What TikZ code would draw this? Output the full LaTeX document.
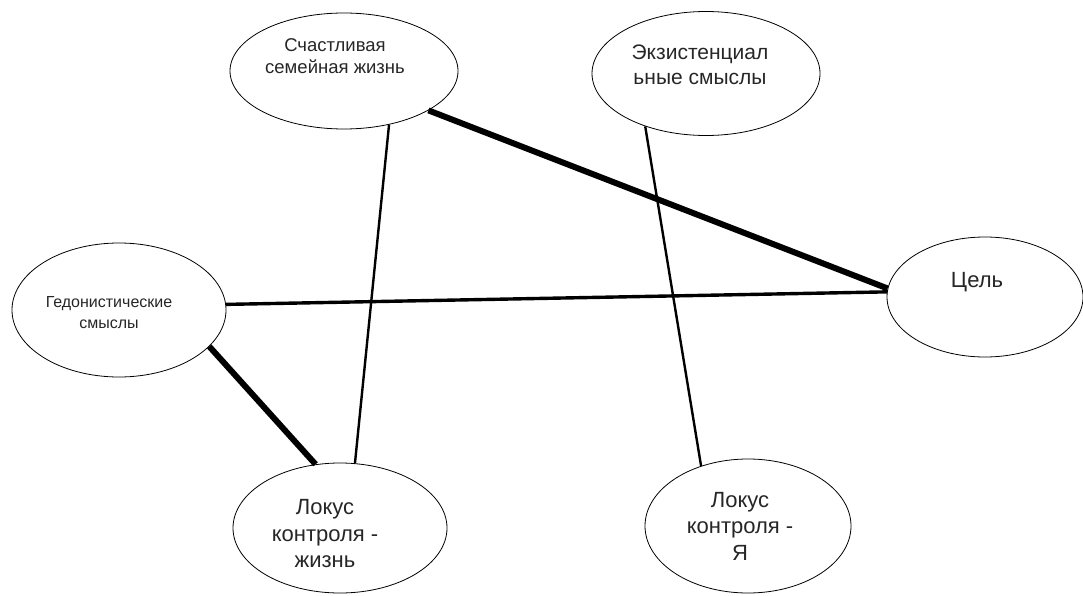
\documentclass[tikz,border=0pt]{standalone}
\usepackage{fontspec}
\setmainfont{Liberation Sans}
\usetikzlibrary{shapes.geometric}

\begin{document}
\begin{tikzpicture}[x=1pt,y=-1pt,
    oval/.style={draw,ellipse,line width=0.8pt,inner sep=0pt},
    txt/.style={align=center,inner sep=0pt,text=black!85},
    weakline/.style={line width=2.4pt},
    midline/.style={line width=3.4pt},
    strongline/.style={line width=6pt}]
            \useasboundingbox (0,0) rectangle (1083,596);
            \node[oval,minimum width=228pt,minimum height=116pt] (family) at (344,71) {};
            \node[oval,minimum width=228pt,minimum height=124pt] (exist) at (706,73.5) {};
            \node[oval,minimum width=214pt,minimum height=134pt] (hedon) at (119,310) {};
            \node[oval,minimum width=196pt,minimum height=120pt] (goal) at (985,297) {};
            \node[oval,minimum width=214pt,minimum height=130pt] (lifelocus) at (340,528) {};
            \node[oval,minimum width=206pt,minimum height=134pt] (selflocus) at (748,526) {};
            \node[txt,font=\fontsize{18.5}{22}\selectfont] (familytext) at (335,56) {Счастливая\\семейная жизнь};
            \node[txt,font=\fontsize{21}{25}\selectfont] (existtext) at (700,64.5) {Экзистенциал\\ьные смыслы};
            \node[txt,font=\fontsize{16}{21}\selectfont] (hedontext) at (109,312.5) {Гедонистические\\смыслы};
            \node[txt,font=\fontsize{22}{26}\selectfont] (goaltext) at (977,282) {Цель};
            \node[txt,font=\fontsize{22}{26.5}\selectfont] (lifetext) at (325,534) {Локус\\контроля -\\жизнь};
            \node[txt,font=\fontsize{22}{26.5}\selectfont] (selftext) at (740,526) {Локус\\контроля -\\Я};
            \draw[strongline] (family.-25) -- (goal.175);
            \draw[midline] (hedon.3) -- (goal.177);
            \draw[strongline] (hedon.-22) -- (lifelocus.111);
            \draw[weakline] (family.-50) -- (lifelocus.77);
            \draw[weakline] (exist.-139) -- (selflocus.128);
          \end{tikzpicture}
\end{document}
